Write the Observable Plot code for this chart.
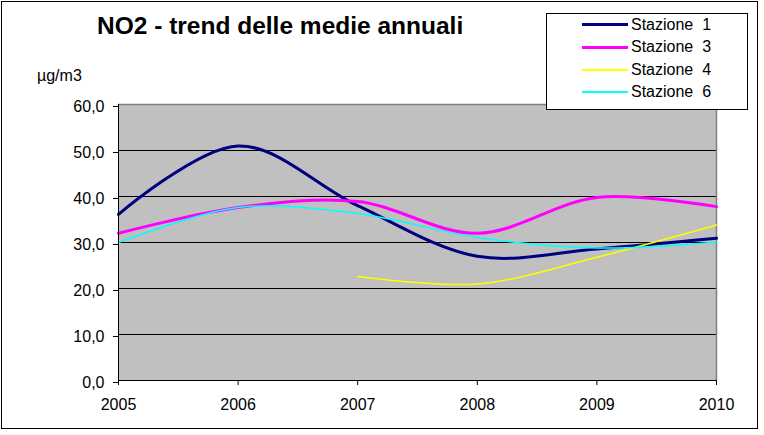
<!DOCTYPE html>
<html>
<head>
<meta charset="utf-8">
<script src="https://cdn.jsdelivr.net/npm/d3@7"></script>
<script src="https://cdn.jsdelivr.net/npm/@observablehq/plot@0.6"></script>
<style>
  body { margin: 0; background: #fff; font-family: Arial, "Liberation Sans", sans-serif; }
  #wrap { position: relative; width: 764px; height: 435px; }
  #border { position: absolute; left: 1px; top: 1px; width: 757px; height: 428px; border: 1px solid #000; box-sizing: border-box; pointer-events: none; }
  #title { position: absolute; left: 97px; top: 13.5px; font-size: 24.5px; line-height: 1; font-weight: bold; color: #000; white-space: nowrap; }
  #unit { position: absolute; left: 37px; top: 68px; font-size: 16px; line-height: 1; color: #000; }
  #legend { position: absolute; left: 546px; top: 13px; width: 202px; height: 97px; border: 1px solid #000; background: #fff; box-sizing: border-box; }
  .item { position: absolute; left: 35px; height: 18px; display: flex; align-items: center; }
  .sample { width: 46px; }
  .lab { font-size: 16px; white-space: pre; margin-left: 3px; color: #000; }
  svg { position: absolute; left: 0; top: 0; }
</style>
</head>
<body>
<div id="wrap">
  <div id="chart"></div>
  <div id="title">NO2 - trend delle medie annuali</div>
  <div id="unit">µg/m3</div>
  <div id="legend"></div>
  <div id="border"></div>
</div>
<script>
const years = [2005, 2006, 2007, 2008, 2009, 2010];
const seriesNames = ["Stazione  1", "Stazione  3", "Stazione  4", "Stazione  6"];
const stazione1 = [36.1, 51.0, 38.0, 27.0, 28.6, 30.9];
const stazione3 = [32.0, 37.6, 38.9, 32.0, 39.8, 37.8];
const stazione4 = [null, null, 22.6, 21.0, 26.8, 33.8];
const stazione6 = [30.0, 37.6, 36.3, 31.1, 28.8, 30.1];
const colors = ["#000080", "#FF00FF", "#FFFF00", "#00FFFF"];
const widths = [3, 3, 1.5, 1.5];
const yTicks = [0, 10, 20, 30, 40, 50, 60];

const allSeries = [stazione1, stazione3, stazione4, stazione6];
const data = [];
allSeries.forEach((vals, i) => {
  vals.forEach((v, j) => { if (v != null) data.push({ serie: seriesNames[i], year: years[j], value: v }); });
});

const fmt = d => d.toFixed(1).replace(".", ",");

const lineMarks = seriesNames.map((name, i) =>
  Plot.line(data.filter(d => d.serie === name), {
    x: "year", y: "value", stroke: colors[i], strokeWidth: widths[i], curve: "catmull-rom"
  })
);

const chart = Plot.plot({
  width: 764,
  height: 435,
  marginLeft: 118,
  marginRight: 48,
  marginTop: 104,
  marginBottom: 55,
  style: { fontFamily: 'Arial, "Liberation Sans", sans-serif', fontSize: "16px", color: "#000", background: "transparent" },
  x: { domain: [2005, 2010] },
  y: { domain: [0, 60] },
  marks: [
    Plot.frame({ fill: "#C0C0C0", stroke: null }),
    Plot.ruleY([10, 20, 30, 40, 50], { stroke: "#000", strokeWidth: 1 }),
    Plot.ruleY([60], { stroke: "#808080", strokeWidth: 1.5 }),
    Plot.ruleX([2010], { stroke: "#808080", strokeWidth: 1.5 }),
    ...lineMarks,
    Plot.ruleX([2005], { stroke: "#000", strokeWidth: 1 }),
    Plot.ruleY([0], { stroke: "#000", strokeWidth: 1 }),
    Plot.axisY({ ticks: yTicks, tickFormat: fmt, tickSize: 5, tickPadding: 9, label: null, fontSize: 16, dy: 2 }),
    Plot.axisX({ ticks: years, tickFormat: d => String(d), tickSize: 5, tickPadding: 13, label: null, fontSize: 16 })
  ]
});
document.getElementById("chart").appendChild(chart);

const legend = document.getElementById("legend");
const tops = [1.5, 24, 47, 69];
seriesNames.forEach((name, i) => {
  const item = document.createElement("div");
  item.className = "item";
  item.style.top = tops[i] + "px";
  const s = document.createElement("div");
  s.className = "sample";
  s.style.height = (i < 2 ? 3 : 2) + "px";
  s.style.background = colors[i];
  const l = document.createElement("span");
  l.className = "lab";
  l.textContent = name;
  item.appendChild(s);
  item.appendChild(l);
  legend.appendChild(item);
});
</script>
</body>
</html>
